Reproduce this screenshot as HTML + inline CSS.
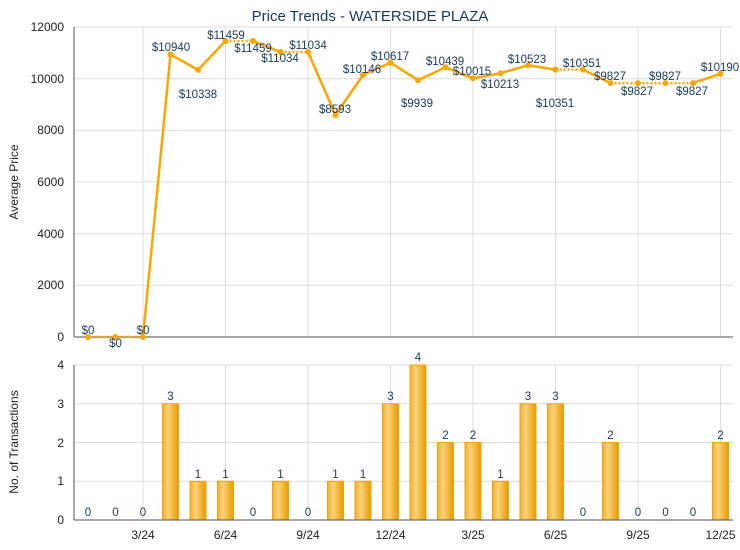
<!DOCTYPE html>
<html><head><meta charset="utf-8"><style>
body{margin:0;background:#fff;}
svg{display:block;font-family:"Liberation Sans",sans-serif;}
.g{stroke:#dcdcdc;stroke-width:1}
.lbl{font-size:11.5px;fill:#1a3a5c;text-anchor:middle}
.tk{font-size:12px;fill:#222;text-anchor:end}
.xt{font-size:12px;fill:#222;text-anchor:middle}
</style></head><body>
<svg width="740" height="550" viewBox="0 0 740 550">
<defs>
<linearGradient id="bg" x1="0" x2="1" y1="0" y2="0">
<stop offset="0" stop-color="#f0b030"/><stop offset="0.35" stop-color="#fcd27a"/><stop offset="1" stop-color="#e89a00"/>
</linearGradient>
</defs>
<text x="370" y="21" font-size="15" fill="#1a3a5c" text-anchor="middle">Price Trends - WATERSIDE PLAZA</text>
<g class="g">
<line x1="74" x2="733" y1="27" y2="27"/><line x1="74" x2="733" y1="78.7" y2="78.7"/><line x1="74" x2="733" y1="130.3" y2="130.3"/><line x1="74" x2="733" y1="182" y2="182"/><line x1="74" x2="733" y1="233.7" y2="233.7"/><line x1="74" x2="733" y1="285.3" y2="285.3"/>
<line x1="143" x2="143" y1="27" y2="337"/><line x1="225.5" x2="225.5" y1="27" y2="337"/><line x1="308" x2="308" y1="27" y2="337"/><line x1="390.5" x2="390.5" y1="27" y2="337"/><line x1="473" x2="473" y1="27" y2="337"/><line x1="555.5" x2="555.5" y1="27" y2="337"/><line x1="638" x2="638" y1="27" y2="337"/><line x1="720.5" x2="720.5" y1="27" y2="337"/>
</g>
<line x1="74" x2="74" y1="27" y2="337" stroke="#555"/>
<line x1="74" x2="733" y1="337" y2="337" stroke="#888" stroke-width="1.5"/>
<g class="tk">
<text x="64" y="31">12000</text><text x="64" y="83">10000</text><text x="64" y="134">8000</text><text x="64" y="186">6000</text><text x="64" y="238">4000</text><text x="64" y="289">2000</text><text x="64" y="341">0</text>
</g>
<text transform="translate(18,182) rotate(-90)" font-size="12" fill="#222" text-anchor="middle">Average Price</text>
<g fill="none" stroke="#ffa500" stroke-width="2.5">
<polyline stroke-dasharray="2,2" points="88,337 115.5,337 143,337"/>
<polyline points="143,337 170.5,54.4 198,69.9 225.5,41"/>
<line stroke-dasharray="2,2" x1="225.5" y1="41" x2="253" y2="41"/>
<polyline points="253,41 280.5,52"/>
<line stroke-dasharray="2,2" x1="280.5" y1="52" x2="308" y2="52"/>
<polyline points="308,52 335.5,115 363,74.9 390.5,62.7 418,80.2 445.5,67.3 473,78.3 500.5,73.2 528,65.2 555.5,69.6"/>
<line stroke-dasharray="2,2" x1="555.5" y1="69.6" x2="583" y2="69.6"/>
<polyline points="583,69.6 610.5,83.1"/>
<polyline stroke-dasharray="2,2" points="610.5,83.1 638,83.1 665.5,83.1 693,83.1"/>
<polyline points="693,83.1 720.5,73.8"/>
</g>
<g fill="#ffa500">
<circle cx="88" cy="337" r="3"/><circle cx="115.5" cy="337" r="3"/><circle cx="143" cy="337" r="3"/><circle cx="170.5" cy="54.4" r="3"/><circle cx="198" cy="69.9" r="3"/><circle cx="225.5" cy="41" r="3"/><circle cx="253" cy="41" r="3"/><circle cx="280.5" cy="52" r="3"/><circle cx="308" cy="52" r="3"/><circle cx="335.5" cy="115" r="3"/><circle cx="363" cy="74.9" r="3"/><circle cx="390.5" cy="62.7" r="3"/><circle cx="418" cy="80.2" r="3"/><circle cx="445.5" cy="67.3" r="3"/><circle cx="473" cy="78.3" r="3"/><circle cx="500.5" cy="73.2" r="3"/><circle cx="528" cy="65.2" r="3"/><circle cx="555.5" cy="69.6" r="3"/><circle cx="583" cy="69.6" r="3"/><circle cx="610.5" cy="83.1" r="3"/><circle cx="638" cy="83.1" r="3"/><circle cx="665.5" cy="83.1" r="3"/><circle cx="693" cy="83.1" r="3"/><circle cx="720.5" cy="73.8" r="3"/>
</g>
<g class="lbl">
<text x="88" y="334">$0</text><text x="115.5" y="347">$0</text><text x="143" y="334">$0</text>
<text x="171" y="51">$10940</text><text x="198" y="98">$10338</text><text x="226" y="39">$11459</text><text x="253" y="52">$11459</text><text x="280" y="62">$11034</text><text x="308" y="49">$11034</text><text x="335" y="113">$8593</text><text x="362" y="73">$10146</text><text x="390" y="60">$10617</text><text x="417" y="107">$9939</text><text x="445" y="65">$10439</text><text x="472" y="75">$10015</text><text x="500" y="88">$10213</text><text x="527" y="63">$10523</text><text x="555" y="107">$10351</text><text x="582" y="67">$10351</text><text x="610" y="80">$9827</text><text x="637" y="95">$9827</text><text x="665" y="80">$9827</text><text x="692" y="95">$9827</text><text x="720" y="71">$10190</text>
</g>
<g class="g">
<line x1="74" x2="733" y1="365" y2="365"/><line x1="74" x2="733" y1="403.75" y2="403.75"/><line x1="74" x2="733" y1="442.5" y2="442.5"/><line x1="74" x2="733" y1="481.25" y2="481.25"/>
<line x1="143" x2="143" y1="365" y2="520"/><line x1="225.5" x2="225.5" y1="365" y2="520"/><line x1="308" x2="308" y1="365" y2="520"/><line x1="390.5" x2="390.5" y1="365" y2="520"/><line x1="473" x2="473" y1="365" y2="520"/><line x1="555.5" x2="555.5" y1="365" y2="520"/><line x1="638" x2="638" y1="365" y2="520"/><line x1="720.5" x2="720.5" y1="365" y2="520"/>
</g>
<g fill="url(#bg)" stroke="#f0a500" stroke-width="1">
<rect x="162.5" y="403.75" width="16" height="116.25"/><rect x="190" y="481.25" width="16" height="38.75"/><rect x="217.5" y="481.25" width="16" height="38.75"/><rect x="272.5" y="481.25" width="16" height="38.75"/><rect x="327.5" y="481.25" width="16" height="38.75"/><rect x="355" y="481.25" width="16" height="38.75"/><rect x="382.5" y="403.75" width="16" height="116.25"/><rect x="410" y="365" width="16" height="155"/><rect x="437.5" y="442.5" width="16" height="77.5"/><rect x="465" y="442.5" width="16" height="77.5"/><rect x="492.5" y="481.25" width="16" height="38.75"/><rect x="520" y="403.75" width="16" height="116.25"/><rect x="547.5" y="403.75" width="16" height="116.25"/><rect x="602.5" y="442.5" width="16" height="77.5"/><rect x="712.5" y="442.5" width="16" height="77.5"/>
</g>
<line x1="74" x2="74" y1="365" y2="520" stroke="#555"/>
<line x1="74" x2="733" y1="520" y2="520" stroke="#555"/>
<g class="lbl">
<text x="88" y="516">0</text><text x="115.5" y="516">0</text><text x="143" y="516">0</text><text x="170.5" y="400">3</text><text x="198" y="478">1</text><text x="225.5" y="478">1</text><text x="253" y="516">0</text><text x="280.5" y="478">1</text><text x="308" y="516">0</text><text x="335.5" y="478">1</text><text x="363" y="478">1</text><text x="390.5" y="400">3</text><text x="418" y="361">4</text><text x="445.5" y="439">2</text><text x="473" y="439">2</text><text x="500.5" y="478">1</text><text x="528" y="400">3</text><text x="555.5" y="400">3</text><text x="583" y="516">0</text><text x="610.5" y="439">2</text><text x="638" y="516">0</text><text x="665.5" y="516">0</text><text x="693" y="516">0</text><text x="720.5" y="439">2</text>
</g>
<g class="tk">
<text x="64" y="369">4</text><text x="64" y="408">3</text><text x="64" y="447">2</text><text x="64" y="485">1</text><text x="64" y="524">0</text>
</g>
<text transform="translate(18,442) rotate(-90)" font-size="12" fill="#222" text-anchor="middle">No. of Transactions</text>
<g class="xt">
<text x="143" y="539">3/24</text><text x="225.5" y="539">6/24</text><text x="308" y="539">9/24</text><text x="390.5" y="539">12/24</text><text x="473" y="539">3/25</text><text x="555.5" y="539">6/25</text><text x="638" y="539">9/25</text><text x="720.5" y="539">12/25</text>
</g>
</svg>
</body></html>
